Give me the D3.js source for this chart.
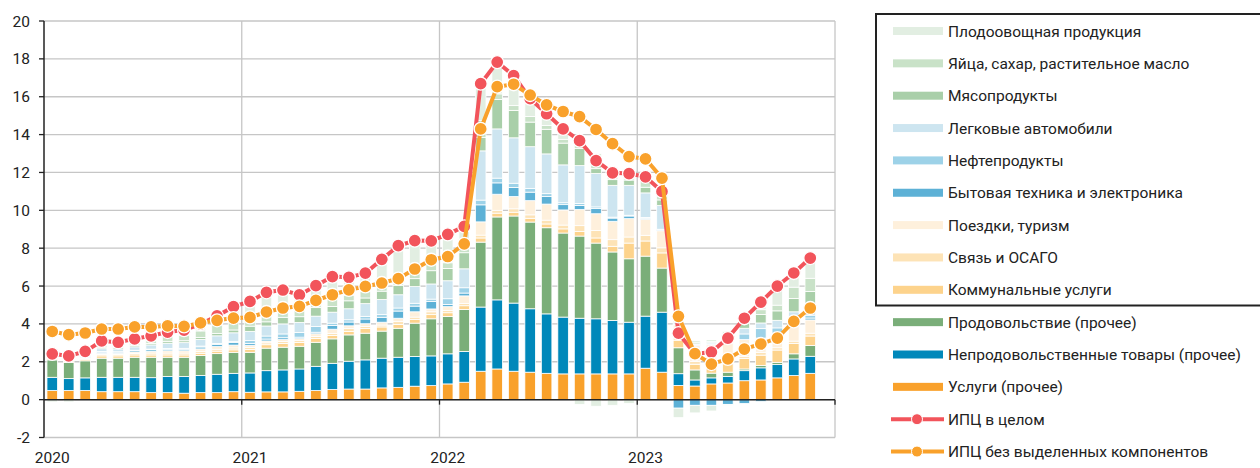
<!DOCTYPE html>
<html lang="ru">
<head>
<meta charset="UTF-8">
<title>Вклад компонентов в инфляцию</title>
<script src="https://cdn.jsdelivr.net/npm/d3@7"></script>
<style>
  body { margin: 0; background: #fff; font-family: Roboto, 'Noto Sans', sans-serif; }
  svg text { fill: #222; }
</style>
</head>
<body>
<svg id="chart" width="1260" height="468"></svg>
<script>
// ---- data (% г/г, monthly Jan 2020 - Nov 2023) ----
const years = ['2020', '2021', '2022', '2023'];
const yTicks = [-2, 0, 2, 4, 6, 8, 10, 12, 14, 16, 18, 20];

const uslugi = [0.48,0.48,0.48,0.42,0.42,0.42,0.37,0.37,0.34,0.37,0.37,0.42,
  0.39,0.41,0.41,0.44,0.48,0.53,0.56,0.56,0.62,0.65,0.71,0.74,
  0.83,0.92,1.50,1.62,1.50,1.45,1.39,1.36,1.36,1.36,1.36,1.36,
  1.66,1.45,0.75,0.72,0.83,0.88,1.00,1.04,1.15,1.27,1.39];
const neprod = [0.70,0.63,0.67,0.76,0.76,0.76,0.79,0.85,0.88,0.90,0.97,0.97,
  1.02,1.12,1.16,1.18,1.28,1.39,1.47,1.54,1.57,1.59,1.57,1.57,
  1.59,1.62,3.39,3.65,3.60,3.35,3.14,3.00,2.94,2.91,2.82,2.73,
  2.75,3.17,0.62,0.32,0.32,0.35,0.53,0.64,0.70,0.88,0.90];
const prod = [0.92,0.85,0.90,1.01,1.01,1.06,1.08,1.02,1.02,1.06,1.09,1.11,
  1.09,1.19,1.20,1.20,1.27,1.29,1.39,1.41,1.43,1.53,1.76,1.96,
  1.97,2.22,3.43,4.38,4.60,4.58,4.55,4.44,4.34,4.00,3.62,3.35,
  3.17,2.33,1.37,0.53,0.25,0.22,0.09,0.12,0.12,0.27,0.57];
const komm = [0.08,0.08,0.08,0.12,0.12,0.12,0.12,0.12,0.12,0.12,0.13,0.13,
  0.15,0.18,0.20,0.20,0.20,0.18,0.18,0.25,0.22,0.20,0.20,0.22,
  0.20,0.20,0.22,0.20,0.20,0.20,0.20,0.22,0.25,0.27,0.30,0.83,
  0.80,0.80,0.40,0.30,0.35,0.45,0.55,0.55,0.65,0.55,0.50];
const svyaz = [0.05,0.05,0.05,0.08,0.08,0.08,0.10,0.10,0.10,0.10,0.10,0.10,
  0.10,0.10,0.10,0.10,0.10,0.10,0.15,0.10,0.10,0.15,0.12,0.15,
  0.12,0.12,0.15,0.15,0.18,0.18,0.20,0.20,0.30,0.40,0.35,0.32,
  0.30,0.27,0.20,0.15,0.15,0.15,0.10,0.15,0.12,0.12,0.15];
const poezdki = [0.05,0.05,0.05,0.06,0.06,0.08,0.10,0.12,0.12,0.13,0.14,0.15,
  0.12,0.10,0.10,0.10,0.15,0.23,0.15,0.15,0.15,0.18,0.28,0.15,
  0.20,0.40,0.70,0.85,0.65,0.75,0.85,0.80,0.85,0.88,0.97,0.97,
  0.85,0.90,0.60,0.85,1.00,0.95,0.90,0.75,0.60,0.80,0.70];
const bytov = [0.03,0.03,0.05,0.06,0.06,0.07,0.08,0.08,0.08,0.10,0.12,0.14,
  0.10,0.10,0.10,0.08,0.08,0.20,0.20,0.25,0.26,0.38,0.30,0.40,
  0.12,0.15,0.90,0.60,0.48,0.45,0.40,0.28,0.22,0.27,0.17,0.14,
  0.05,0.05,-0.45,-0.30,-0.30,-0.25,-0.20,-0.10,0.15,0.10,0.10];
const nefte = [0.05,0.05,0.04,0.03,0.02,0.02,0.03,0.04,0.05,0.05,0.05,0.06,
  0.15,0.16,0.20,0.25,0.30,0.12,0.12,0.14,0.14,0.16,0.15,0.12,
  0.30,0.28,0.25,0.25,0.22,0.20,0.15,0.10,0.10,0.09,0.05,0.04,
  0.04,0.03,0.05,0.03,0.05,0.10,0.30,0.50,0.30,0.20,0.15];
const legk = [0.08,0.08,0.10,0.15,0.15,0.18,0.22,0.28,0.30,0.35,0.40,0.45,
  0.48,0.53,0.53,0.53,0.55,0.58,0.58,0.67,0.80,0.70,0.88,0.80,
  0.95,1.00,2.60,2.60,2.40,2.20,2.10,2.00,2.00,1.76,1.68,1.58,
  1.30,1.25,0.10,0.05,0.08,0.20,0.30,0.30,0.40,0.45,0.45];
const myaso = [0.04,0.05,0.05,0.08,0.08,0.08,0.08,0.10,0.10,0.10,0.12,0.15,
  0.28,0.22,0.35,0.30,0.45,0.30,0.42,0.30,0.44,0.50,0.42,0.70,
  0.65,0.85,0.70,1.55,1.45,1.30,1.30,1.15,0.90,0.26,0.30,0.28,
  0.30,0.30,0.20,0.08,0.05,0.14,0.30,0.45,0.50,0.70,0.80];
const yaytsa = [0.06,0.08,0.10,0.15,0.15,0.17,0.20,0.25,0.30,0.35,0.45,0.55,
  0.45,0.50,0.40,0.35,0.30,0.40,0.30,0.35,0.25,0.45,0.45,0.35,
  0.30,0.30,0.90,0.30,0.25,0.30,0.20,0.20,0.67,0.78,0.66,0.54,
  0.45,0.30,0.18,0.07,0.07,0.15,0.20,0.25,0.30,0.60,0.70];
const plodo = [-0.12,-0.12,-0.02,0.18,0.12,0.17,0.20,0.24,0.26,0.36,0.48,0.68,
  0.86,1.06,1.04,0.80,0.86,1.18,0.94,0.96,1.43,1.64,1.56,1.23,
  1.50,1.09,1.95,1.68,1.58,0.94,0.62,0.55,-0.25,-0.35,-0.30,-0.20,
  0.10,0.15,-0.50,-0.40,-0.30,-0.05,0.24,0.54,1.04,0.78,1.10];

const cpi = [2.42,2.31,2.55,3.10,3.03,3.21,3.37,3.57,3.67,3.99,4.42,4.91,
  5.19,5.67,5.79,5.53,6.02,6.50,6.46,6.68,7.41,8.13,8.40,8.39,
  8.73,9.15,16.69,17.83,17.11,15.90,15.10,14.30,13.68,12.63,11.98,11.94,
  11.77,11.00,3.51,2.42,2.51,3.25,4.30,5.15,6.00,6.69,7.48];
const cpiEx = [3.60,3.43,3.52,3.73,3.73,3.84,3.84,3.90,3.87,4.05,4.19,4.31,
  4.34,4.63,4.84,4.93,5.24,5.54,5.80,5.98,6.16,6.39,6.90,7.39,
  7.56,8.23,14.30,16.53,16.66,16.09,15.57,15.22,14.95,14.27,13.52,12.84,
  12.72,11.70,4.40,2.43,1.88,2.15,2.67,2.94,3.25,4.13,4.84];

// stacking order bottom -> top
const series = [
  { key: 'uslugi',  name: 'Услуги (прочее)', color: '#f9a12b', values: uslugi },
  { key: 'neprod',  name: 'Непродовольственные товары (прочее)', color: '#0088ba', values: neprod },
  { key: 'prod',    name: 'Продовольствие (прочее)', color: '#7aae79', values: prod },
  { key: 'komm',    name: 'Коммунальные услуги', color: '#fdd38c', values: komm },
  { key: 'svyaz',   name: 'Связь и ОСАГО', color: '#fde3b6', values: svyaz },
  { key: 'poezdki', name: 'Поездки, туризм', color: '#fef0dc', values: poezdki },
  { key: 'bytov',   name: 'Бытовая техника и электроника', color: '#5db1d6', values: bytov },
  { key: 'nefte',   name: 'Нефтепродукты', color: '#9dd2e8', values: nefte },
  { key: 'legk',    name: 'Легковые автомобили', color: '#cde5f0', values: legk },
  { key: 'myaso',   name: 'Мясопродукты', color: '#a9cfa9', values: myaso },
  { key: 'yaytsa',  name: 'Яйца, сахар, растительное масло', color: '#c9e2c8', values: yaytsa },
  { key: 'plodo',   name: 'Плодоовощная продукция', color: '#e2eee2', values: plodo }
];
const lines = [
  { name: 'ИПЦ в целом', color: '#f2545b', values: cpi },
  { name: 'ИПЦ без выделенных компонентов', color: '#f9a12b', values: cpiEx }
];

// ---- layout ----
const months = years.flatMap(y => d3.range(12).map(m => y + '-' + (m + 1)));
const rows = cpi.map((v, i) => {
  const r = { month: months[i] };
  series.forEach(s => { r[s.key] = s.values[i]; });
  return r;
});

const svg = d3.select('#chart');
const plotLeft = 44, plotRight = 835, plotTop = 21, plotBottom = 437.5;

const x = d3.scaleBand().domain(months).range([plotLeft, plotRight])
  .paddingInner(0.36).paddingOuter(0.18);
const y = d3.scaleLinear().domain([-2, 20]).range([plotBottom, plotTop]);

// grid
svg.append('g').selectAll('line').data(yTicks).join('line')
  .attr('x1', plotLeft).attr('x2', plotRight)
  .attr('y1', d => y(d)).attr('y2', d => y(d))
  .attr('stroke', '#c6c6c6').attr('stroke-width', 1.3);

const yearEdges = years.slice(1).map(yr => x(yr + '-1') - x.step() * x.paddingInner() / 2);
yearEdges.push(plotRight);
svg.append('g').selectAll('line').data(yearEdges).join('line')
  .attr('x1', d => d).attr('x2', d => d)
  .attr('y1', plotTop).attr('y2', plotBottom)
  .attr('stroke', '#c6c6c6').attr('stroke-width', 1.3);

// bars
const stack = d3.stack().keys(series.map(s => s.key)).offset(d3.stackOffsetDiverging);
const stacked = stack(rows);
svg.append('g').selectAll('g').data(stacked).join('g')
  .attr('fill', (d, i) => series[i].color)
  .selectAll('rect').data(d => d).join('rect')
  .attr('x', d => x(d.data.month))
  .attr('width', x.bandwidth())
  .attr('y', d => y(Math.max(d[0], d[1])))
  .attr('height', d => Math.abs(y(d[0]) - y(d[1])))
  .attr('stroke', '#fff').attr('stroke-width', 0.8);

// axes
svg.append('line').attr('x1', plotLeft).attr('x2', plotRight)
  .attr('y1', y(0)).attr('y2', y(0)).attr('stroke', '#222').attr('stroke-width', 1.5);
svg.append('line').attr('x1', plotLeft).attr('x2', plotLeft)
  .attr('y1', plotTop).attr('y2', plotBottom).attr('stroke', '#222').attr('stroke-width', 1.5);

svg.append('g').selectAll('line').data(yTicks).join('line')
  .attr('x1', plotLeft - 5).attr('x2', plotLeft)
  .attr('y1', d => y(d)).attr('y2', d => y(d))
  .attr('stroke', '#222').attr('stroke-width', 1.3);
svg.append('g').selectAll('text').data(yTicks).join('text')
  .attr('x', 30).attr('y', d => y(d) + 5.5)
  .attr('text-anchor', 'end').style('font-size', '15.5px')
  .text(d => d);

svg.append('g').selectAll('line').data(yearEdges).join('line')
  .attr('x1', d => d).attr('x2', d => d)
  .attr('y1', y(0)).attr('y2', y(0) + 5)
  .attr('stroke', '#222').attr('stroke-width', 1.3);
svg.append('g').selectAll('text').data(years).join('text')
  .attr('x', d => x(d + '-1') + x.bandwidth() / 2)
  .attr('y', 463).attr('text-anchor', 'middle').style('font-size', '15.5px')
  .text(d => d);

// lines
const lineGen = d3.line().x((d, i) => x(months[i]) + x.bandwidth() / 2).y(d => y(d));
lines.forEach(l => {
  const g = svg.append('g');
  g.append('path').datum(l.values).attr('d', lineGen)
    .attr('fill', 'none').attr('stroke', l.color).attr('stroke-width', 4);
  g.selectAll('circle').data(l.values).join('circle')
    .attr('cx', (d, i) => x(months[i]) + x.bandwidth() / 2)
    .attr('cy', d => y(d)).attr('r', 6.5)
    .attr('fill', l.color).attr('stroke', '#fff').attr('stroke-width', 1.3);
});

// legend
const legendItems = series.slice().reverse().map(s => ({ name: s.name, color: s.color, type: 'bar' }))
  .concat(lines.map(l => ({ name: l.name, color: l.color, type: 'line' })));
svg.append('rect').attr('x', 876).attr('y', 14).attr('width', 400).attr('height', 291.5)
  .attr('fill', 'none').attr('stroke', '#222').attr('stroke-width', 2);
const lg = svg.append('g').selectAll('g').data(legendItems).join('g')
  .attr('transform', (d, i) => `translate(0,${31 + i * 32.35})`);
lg.filter(d => d.type === 'bar').append('rect')
  .attr('x', 893).attr('y', -4).attr('width', 50).attr('height', 8)
  .attr('fill', d => d.color);
lg.filter(d => d.type === 'line').append('line')
  .attr('x1', 891).attr('x2', 944).attr('y1', 0).attr('y2', 0)
  .attr('stroke', d => d.color).attr('stroke-width', 4);
lg.filter(d => d.type === 'line').append('circle')
  .attr('cx', 917).attr('cy', 0).attr('r', 5.5)
  .attr('fill', d => d.color).attr('stroke', '#fff').attr('stroke-width', 1);
lg.append('text').attr('x', 948).attr('y', 5.5).style('font-size', '15.5px')
  .text(d => d.name);
</script>
</body>
</html>
